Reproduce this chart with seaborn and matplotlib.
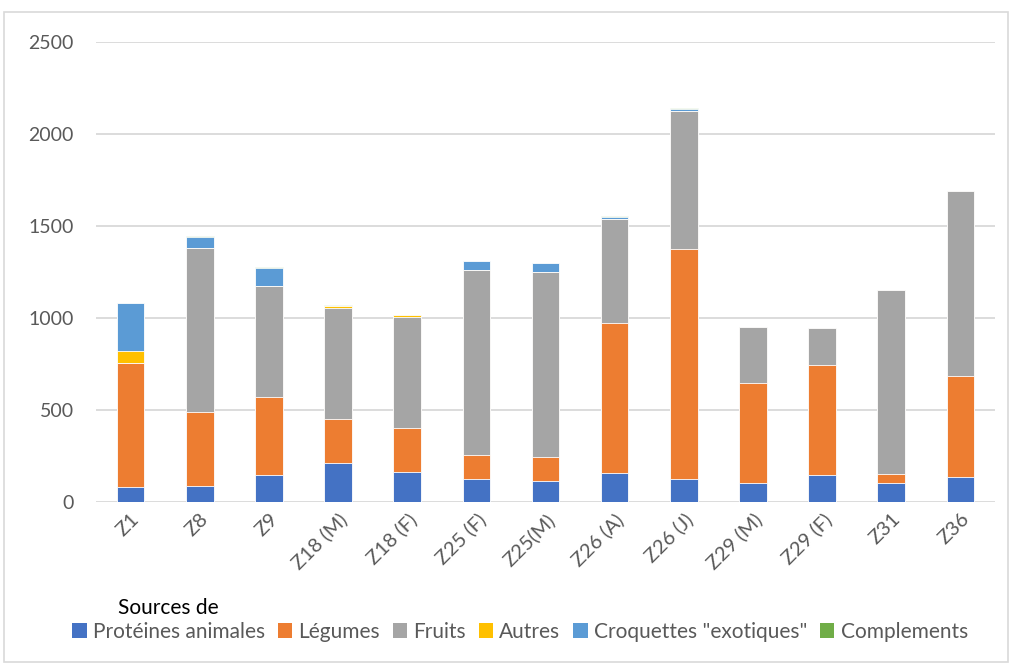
import numpy as np
import pandas as pd
import matplotlib
matplotlib.use("Agg")
import matplotlib.pyplot as plt
from matplotlib.patches import Patch, Rectangle
import seaborn as sns

categories = ["Z1", "Z8", "Z9", "Z18 (M)", "Z18 (F)", "Z25 (F)", "Z25(M)",
              "Z26 (A)", "Z26 (J)", "Z29 (M)", "Z29 (F)", "Z31", "Z36"]
proteines = [83, 89, 145, 210, 161, 123, 112, 159, 127, 105, 145, 102, 138]
legumes = [674, 402, 424, 241, 243, 132, 134, 814, 1250, 540, 598, 50, 548]
fruits = [0, 889, 605, 602, 601, 1004, 1002, 565, 750, 304, 201, 1002, 1004]
autres = [64, 0, 0, 12, 11, 0, 0, 0, 0, 0, 0, 0, 0]
croquettes = [262, 59, 99, 0, 0, 51, 53, 11, 9, 0, 0, 0, 0]
complements = [0, 7, 4, 3, 3, 0, 0, 4, 7, 0, 0, 0, 0]

series_names = ["Protéines animales", "Légumes", "Fruits", "Autres",
                "Croquettes \"exotiques\"", "Complements"]
series_values = [proteines, legumes, fruits, autres, croquettes, complements]
colors = ["#4472C4", "#ED7D31", "#A5A5A5", "#FFC000", "#5B9BD5", "#70AD47"]
yticks = [0, 500, 1000, 1500, 2000, 2500]

sns.set_theme(style="white")
plt.rcParams["font.family"] = ["Lato", "DejaVu Sans"]

W, H = 1010, 664
fig = plt.figure(figsize=(W / 100, H / 100), dpi=100)
ax = fig.add_axes([96 / W, (H - 502) / H, 899 / W, 460 / H])

df = pd.DataFrame({"cat": categories})
cum = np.zeros(len(categories))
cums = []
for vals in series_values:
    cum = cum + np.array(vals)
    cums.append(cum.copy())

for i in reversed(range(len(series_values))):
    df["v"] = cums[i]
    sns.barplot(data=df, x="cat", y="v", order=categories, color=colors[i],
                width=0.4, saturation=1, edgecolor="white", linewidth=0.6,
                ax=ax, zorder=3)

ax.set_ylim(0, 2500)
ax.set_xlim(-0.5, len(categories) - 0.5)
ax.set_yticks(yticks)
ax.set_yticklabels([str(t) for t in yticks], fontsize=14, color="#595959")
ax.yaxis.grid(True, color="#d9d9d9", linewidth=1.3, zorder=0)
ax.set_axisbelow(True)
for s in ax.spines.values():
    s.set_visible(False)
ax.tick_params(axis="both", length=0)
ax.tick_params(axis="y", pad=16)
ax.set_xlabel("")
ax.set_ylabel("")
ax.set_xticks(range(len(categories)))
ax.set_xticklabels(categories, rotation=45, ha="right", rotation_mode="anchor",
                   fontsize=14.5, color="#595959")
ax.tick_params(axis="x", pad=6)

handles = [Patch(facecolor=c, edgecolor="none") for c in colors]
fig.legend(handles, series_names, loc="center", bbox_to_anchor=(520 / W, 1 - 632 / H),
           ncol=6, frameon=False, fontsize=15, labelcolor="#595959",
           handlelength=0.7, handleheight=0.7, handletextpad=0.3,
           columnspacing=0.6, borderpad=0)
fig.text(118 / W, 1 - 608 / H, "Sources de", fontsize=15, color="black",
         ha="left", va="center")

fig.patches.append(Rectangle((4 / W, 0.003), 1 - 4 / W - 0.002, 1 - 12 / H - 0.003,
                             transform=fig.transFigure, fill=False,
                             edgecolor="#d9d9d9", linewidth=1.2))

fig.savefig("out.png", dpi=100)
